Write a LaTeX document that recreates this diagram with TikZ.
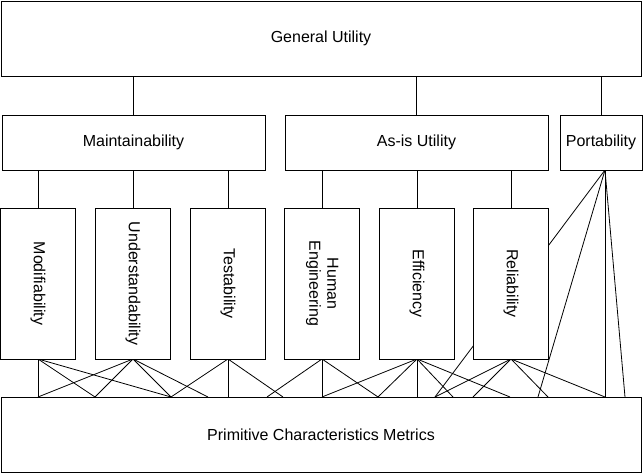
\documentclass[tikz,border=0pt]{standalone}
\usepackage{fontspec}
\setmainfont{Liberation Sans}
\usetikzlibrary{backgrounds}

\begin{document}
\begin{tikzpicture}[x=0.75pt, y=-0.75pt,
  box/.style={draw, fill=white, line width=0.6pt, inner sep=0pt, outer sep=0pt, font=\fontsize{12}{13.5}\selectfont},
  wide/.style={box, minimum width=480pt, minimum height=56.25pt},
  mid/.style={box, minimum width=197.25pt, minimum height=41.25pt},
  tall/.style={box, minimum width=56.25pt, minimum height=113.25pt},
  link/.style={line width=0.6pt}]
\useasboundingbox (0,0) rectangle (644,474);

\node [wide] (gu) at (321, 38.5) {General Utility};
\node [mid] (maint) at (133.5, 142.5) {Maintainability};
\node [mid] (asis) at (416.5, 142.5) {As-is Utility};
\node [box, minimum width=61.5pt, minimum height=41.25pt] (port) at (601, 142.5) {Portability};

\node [tall] (modif) at (38, 283.5) {\rotatebox{-90}{Modifiability}};
\node [tall] (under) at (133, 283.5) {\rotatebox{-90}{Understandability}};
\node [tall] (test) at (228, 283.5) {\rotatebox{-90}{Testability}};
\node [tall] (human) at (322, 283.5) {\rotatebox{-90}{\begin{tabular}{@{}c@{}}Human\\Engineering\end{tabular}}};
\node [tall] (eff) at (417, 283.5) {\rotatebox{-90}{Efficiency}};
\node [tall] (rel) at (511, 283.5) {\rotatebox{-90}{Reliability}};

\node [wide] (metrics) at (321, 434.5) {Primitive Characteristics Metrics};

\coordinate (pb) at ([xshift=3pt]port.south);
\foreach \x in {38,95,171,208,228,267,283,322,378,417,435,453,473,510,538,548,605,625}
  \coordinate (m\x) at (metrics.north -| \x, 0);

\begin{scope}[on background layer]
% upper levels
\foreach \sub in {maint, asis, port}
  \draw [link] (\sub.north) -- (\sub.north |- gu.south);
\foreach \sub/\top in {modif/maint, under/maint, test/maint, human/asis, eff/asis, rel/asis}
  \draw [link] (\sub.north) -- (\sub.north |- \top.south);
% down to the metrics
\foreach \src/\x in {modif.south/38, modif.south/95, modif.south/171,
    under.south/38, under.south/95, under.south/171, under.south/208,
    test.south/171, test.south/228, test.south/283,
    human.south/267, human.south/322, human.south/378,
    eff.south/322, eff.south/378, eff.south/417, eff.south/453, eff.south/510,
    rel.south/435, rel.south/473, rel.south/548, rel.south/605,
    pb/435, pb/538, pb/605, pb/625}
  \draw [link] (\src) -- (m\x);
\end{scope}
\end{tikzpicture}
\end{document}
